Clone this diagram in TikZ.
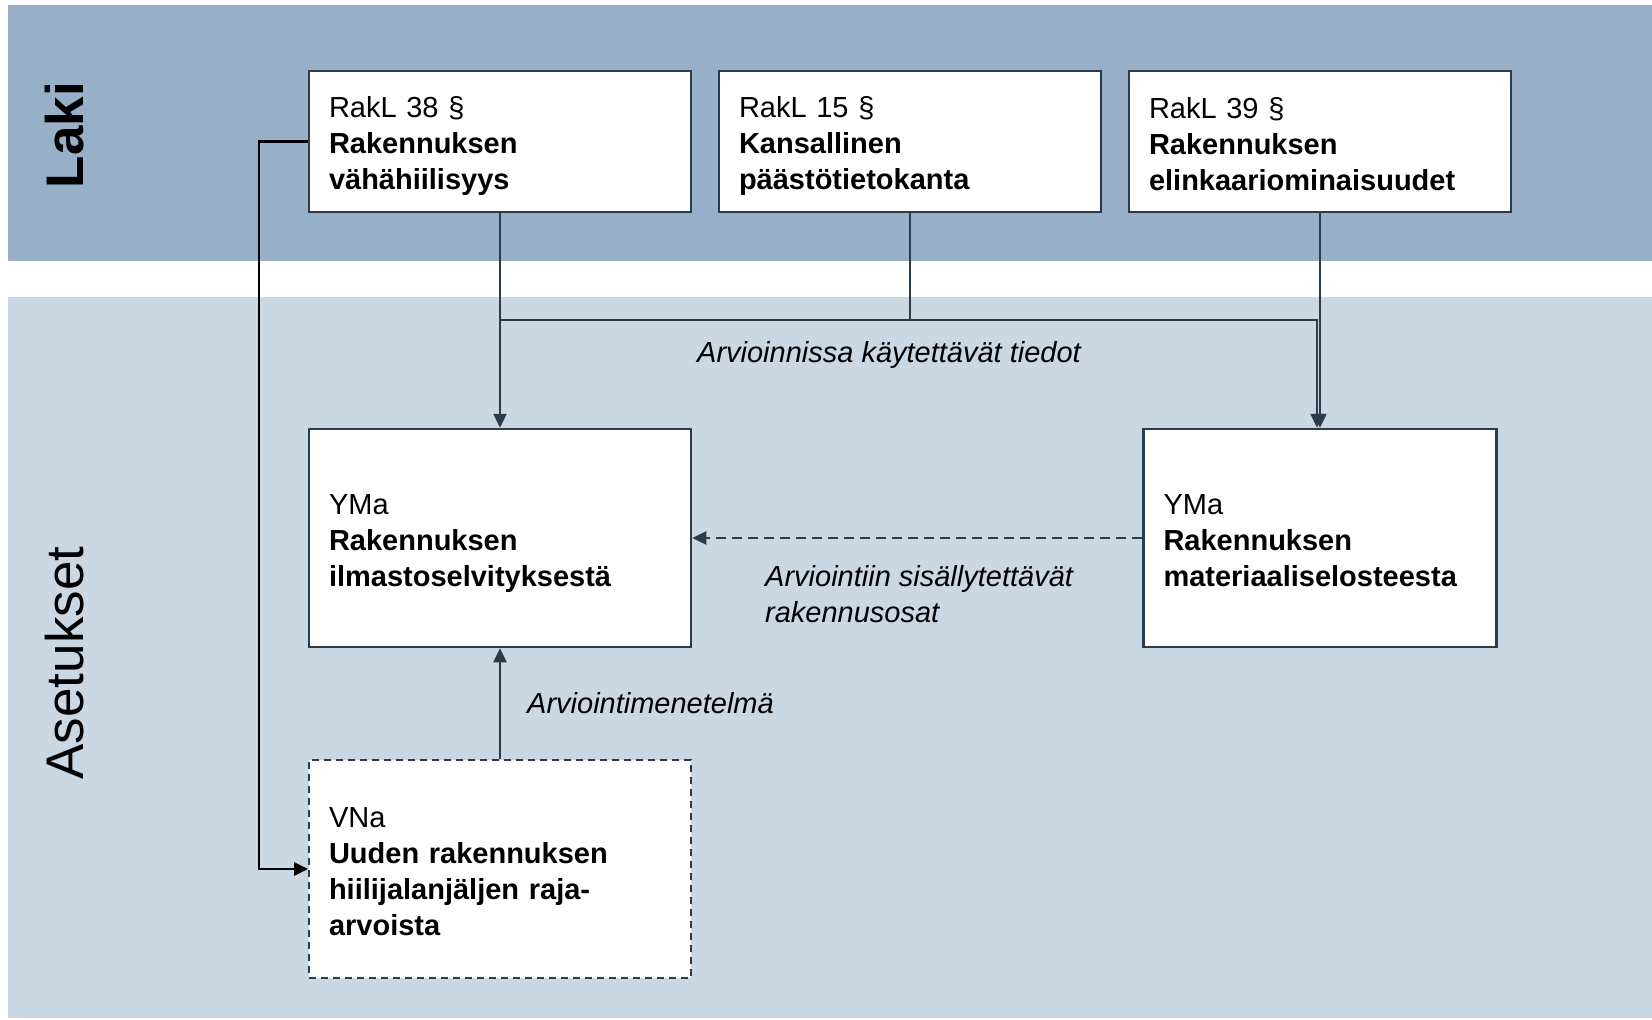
\documentclass[tikz,border=0pt]{standalone}
\usepackage{fontspec}
\setmainfont{Liberation Sans}
\usetikzlibrary{arrows.meta}
\definecolor{topband}{RGB}{151,176,199}
\definecolor{lowband}{RGB}{201,216,227}
\definecolor{edge}{RGB}{44,59,76}
\newcommand{\firstln}{\rule{0pt}{31pt}}
\newcommand{\lastln}{\rule[-6pt]{0pt}{6pt}}
\begin{document}
\begin{tikzpicture}[x=1pt,y=-1pt,
  lawbox/.style={draw=edge,line width=2.5pt,fill=white,align=left,inner xsep=20pt,inner ysep=0pt,
    font=\fontsize{29}{36}\selectfont},
  ln/.style={draw=edge,line width=2.4pt},
  arr/.style={ln,-{Triangle[length=14pt,width=13pt]}},
  lbl/.style={font=\fontsize{29}{36}\selectfont\itshape,inner sep=0pt,align=left}]
\useasboundingbox (0,0) rectangle (1652,1020);
\fill[white] (0,0) rectangle (1652,1020);
\fill[topband] (8,5) rectangle (1652,261);
\fill[lowband] (8,297) rectangle (1652,1018);
\node[rotate=90,font=\fontsize{53}{60}\selectfont\bfseries,inner sep=0pt] (laki) at (65,135) {Laki};
\node[rotate=90,font=\fontsize{53}{60}\selectfont,inner sep=0pt] (aset) at (65,663) {Asetukset};
% boxes
\node[lawbox,minimum width=382pt,minimum height=141pt,text width=342pt] (A) at (500,141.5)
  {\firstln RakL 38 §\\\textbf{Rakennuksen}\\\textbf{vähähiilisyys}\lastln};
\node[lawbox,minimum width=382pt,minimum height=141pt,text width=342pt] (B) at (910,141.5)
  {\firstln RakL 15 §\\\textbf{Kansallinen}\\\textbf{päästötietokanta}\lastln};
\node[lawbox,minimum width=382pt,minimum height=141pt,text width=342pt] (C) at (1320,141.5)
  {\firstln RakL 39 §\\\textbf{Rakennuksen}\\\textbf{elinkaariominaisuudet}\lastln};
\node[lawbox,minimum width=382pt,minimum height=218pt,text width=342pt] (D) at (500,538)
  {\firstln YMa\\\textbf{Rakennuksen}\\\textbf{ilmastoselvityksestä}\lastln};
\node[lawbox,minimum width=353pt,minimum height=218pt,text width=313pt] (E) at (1320,538)
  {\firstln YMa\\\textbf{Rakennuksen}\\\textbf{materiaaliselosteesta}\lastln};
\node[lawbox,line width=1.8pt,dash pattern=on 7pt off 5pt,minimum width=382pt,minimum height=218pt,text width=342pt] (F) at (500,869)
  {\firstln VNa\\\textbf{Uuden rakennuksen}\\\textbf{hiilijalanjäljen raja-}\\\textbf{arvoista}\lastln};
% connectors
\coordinate (j1) at (500,320);
\coordinate (j2) at (1317,320);
\draw[arr] (A.south) -- (D.north);
\draw[ln] (B.south) -- (B.south |- j1);
\draw[arr] (j1) -- (j2) -- (j2 |- E.north);
\draw[arr] (C.south) -- (E.north);
\draw[arr,dash pattern=on 10pt off 6pt] (E.west) -- (D.east);
\draw[arr] (F.north) -- (D.south);
\draw[line width=2.4pt,black,-{Triangle[length=14pt,width=13pt]}] (A.west) -- ++(-49,0) |- (F.west);
% labels
\node[lbl] (l1) at (889,355) {Arvioinnissa käytettävät tiedot};
\node[lbl,anchor=west] (l2) at (765,594) {Arviointiin sisällytettävät\\rakennusosat};
\node[lbl,anchor=west] (l3) at (527,703) {Arviointimenetelmä};
\end{tikzpicture}
\end{document}
